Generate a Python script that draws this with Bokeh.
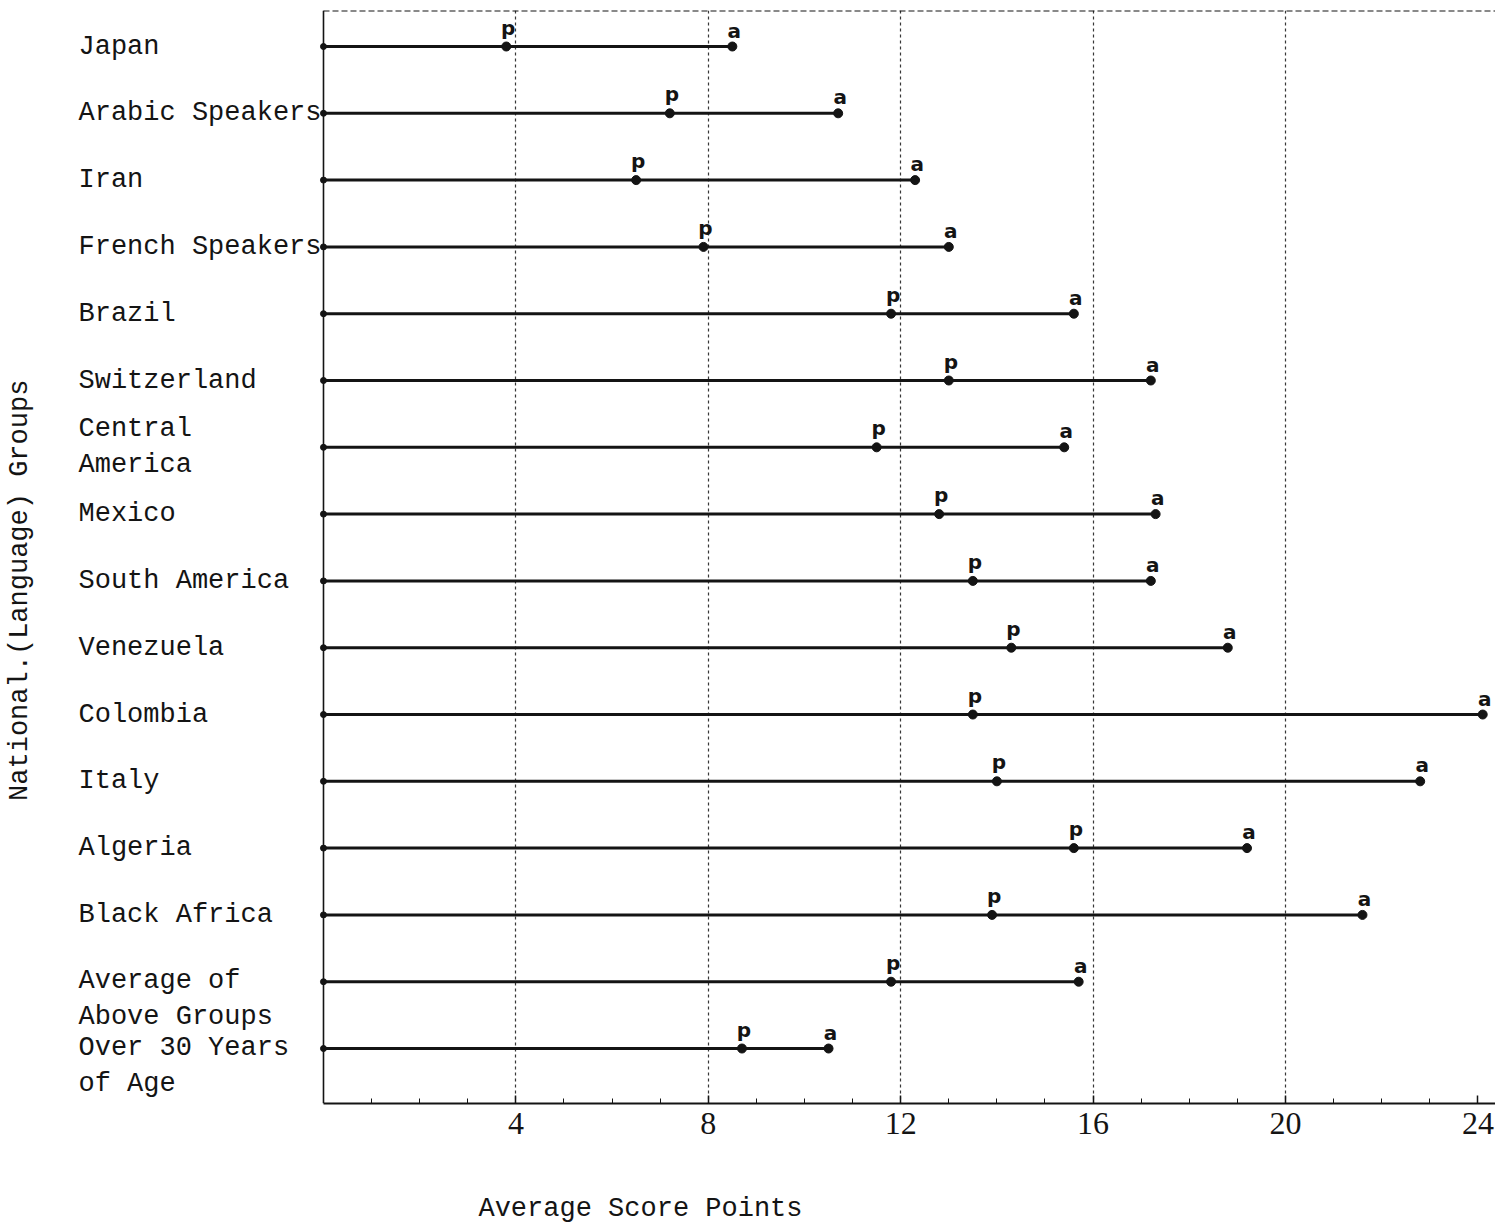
from bokeh.plotting import figure
from bokeh.layouts import column
from bokeh.models import ColumnDataSource, Range1d, FixedTicker, Span
from bokeh.core.properties import value
from bokeh.embed import file_html
from bokeh.resources import INLINE

# ---- data ----
groups = ["Japan", "Arabic Speakers", "Iran", "French Speakers", "Brazil",
          "Switzerland", "Central\nAmerica", "Mexico", "South America",
          "Venezuela", "Colombia", "Italy", "Algeria", "Black Africa",
          "Average of\nAbove Groups", "Over 30 Years\nof Age"]
p_scores = [3.8, 7.2, 6.5, 7.9, 11.8, 13.0, 11.5, 12.8, 13.5, 14.3, 13.5,
            14.0, 15.6, 13.9, 11.8, 8.7]
a_scores = [8.5, 10.7, 12.3, 13.0, 15.6, 17.2, 15.4, 17.3, 17.2, 18.8, 24.1,
            22.8, 19.2, 21.6, 15.7, 10.5]
x_ticks = [4, 8, 12, 16, 20, 24]
x_minor = [1, 2, 3, 5, 6, 7, 9, 10, 11, 13, 14, 15, 17, 18, 19, 21, 22, 23]
grid_at = [4, 8, 12, 16, 20]
x_title = "Average Score Points"
y_title = "National.(Language) Groups"

rows = list(range(len(groups)))
n_single = len(groups) - 2  # last two labels hang from their first line

INK = "#141414"
MONO = "Liberation Mono"

X_START, X_END = -6.715, 24.366
Y_BOTTOM, Y_TOP = 15.823, -0.539
W = 1495

src = ColumnDataSource(dict(row=rows, p=p_scores, a=a_scores, name=groups))
src_mid = ColumnDataSource(dict(row=rows[:n_single], name=groups[:n_single]))
src_top = ColumnDataSource(dict(row=rows[n_single:], name=groups[n_single:]))

xr = Range1d(X_START, X_END)
fig = figure(width=W, height=1153, output_backend="svg", toolbar_location=None,
             tools="", x_range=xr, y_range=Range1d(Y_BOTTOM, Y_TOP),
             min_border_left=0, min_border_right=0, min_border_top=10,
             min_border_bottom=50)
fig.outline_line_color = None
fig.background_fill_color = "white"
fig.border_fill_color = "white"

# grid: vertical dotted lines
fig.ygrid.visible = False
fig.xgrid.ticker = FixedTicker(ticks=grid_at)
fig.xgrid.grid_line_color = INK
fig.xgrid.grid_line_dash = "3 3"
fig.xgrid.grid_line_width = 1.2
fig.xgrid.grid_line_alpha = 0.85

# left vertical axis line at zero, top border
fig.add_layout(Span(location=0, dimension="height", line_color=INK, line_width=1.6))
fig.segment(x0=0, y0=Y_TOP, x1=X_END, y1=Y_TOP, line_color=INK, line_width=2,
            line_dash="6 3")

# x axis
ax = fig.xaxis[0]
ax.ticker = FixedTicker(ticks=x_ticks, minor_ticks=x_minor)
ax.bounds = (0, X_END)
ax.axis_line_color = INK
ax.axis_line_width = 2
ax.major_tick_in = 8
ax.major_tick_out = 0
ax.minor_tick_in = 5
ax.minor_tick_out = 0
ax.major_tick_line_color = INK
ax.minor_tick_line_color = INK
ax.major_tick_line_width = 1.5
ax.major_label_text_font = "Liberation Serif"
ax.major_label_text_font_size = "32px"
ax.major_label_text_color = INK
ax.major_label_standoff = 9
fig.yaxis.visible = False

# bars (dumbbells from zero to a)
fig.segment(x0=0, y0="row", x1="a", y1="row", source=src, line_color=INK,
            line_width=3)
fig.scatter(x=0, y="row", source=src, size=6, color=INK)
fig.scatter(x="p", y="row", source=src, size=9, color=INK)
fig.scatter(x="a", y="row", source=src, size=9, color=INK)

fig.text(x="p", y="row", text=value("p"), source=src, text_font=value("DejaVu Sans"),
         text_font_style="bold", text_font_size="20px", text_color=INK,
         text_align="center", text_baseline="alphabetic", x_offset=2, y_offset=-19)
fig.text(x="a", y="row", text=value("a"), source=src, text_font=value("DejaVu Sans"),
         text_font_style="bold", text_font_size="20px", text_color=INK,
         text_align="center", text_baseline="alphabetic", x_offset=2, y_offset=-16)

# group labels
LABEL_X = -5.094
fig.text(x=LABEL_X, y="row", text="name", source=src_mid, text_font=value(MONO),
         text_font_size="27px", text_color=INK, text_align="left",
         text_baseline="middle")
fig.text(x=LABEL_X, y="row", text="name", source=src_top, text_font=value(MONO),
         text_font_size="27px", text_color=INK, text_align="left",
         text_baseline="top", y_offset=-16)

# y axis title
fig.text(x=-6.3, y=8.14, text=value(y_title), angle=1.5707963, text_font=value(MONO),
         text_font_size="27px", text_color=INK, text_align="center",
         text_baseline="middle")

# x axis title in a strip below, sharing the x scale
strip = figure(width=W, height=72, output_backend="svg", toolbar_location=None,
               tools="", x_range=xr, y_range=Range1d(0, 72),
               min_border_left=0, min_border_right=0, min_border_top=0,
               min_border_bottom=0)
strip.axis.visible = False
strip.grid.visible = False
strip.outline_line_color = None
strip.background_fill_color = "white"
strip.border_fill_color = "white"
strip.text(x=6.59, y=17, text=value(x_title), text_font=value(MONO),
           text_font_size="27px", text_color=INK, text_align="center",
           text_baseline="middle")

layout = column(fig, strip, spacing=0)
open("out.html", "w").write(file_html(layout, INLINE))
